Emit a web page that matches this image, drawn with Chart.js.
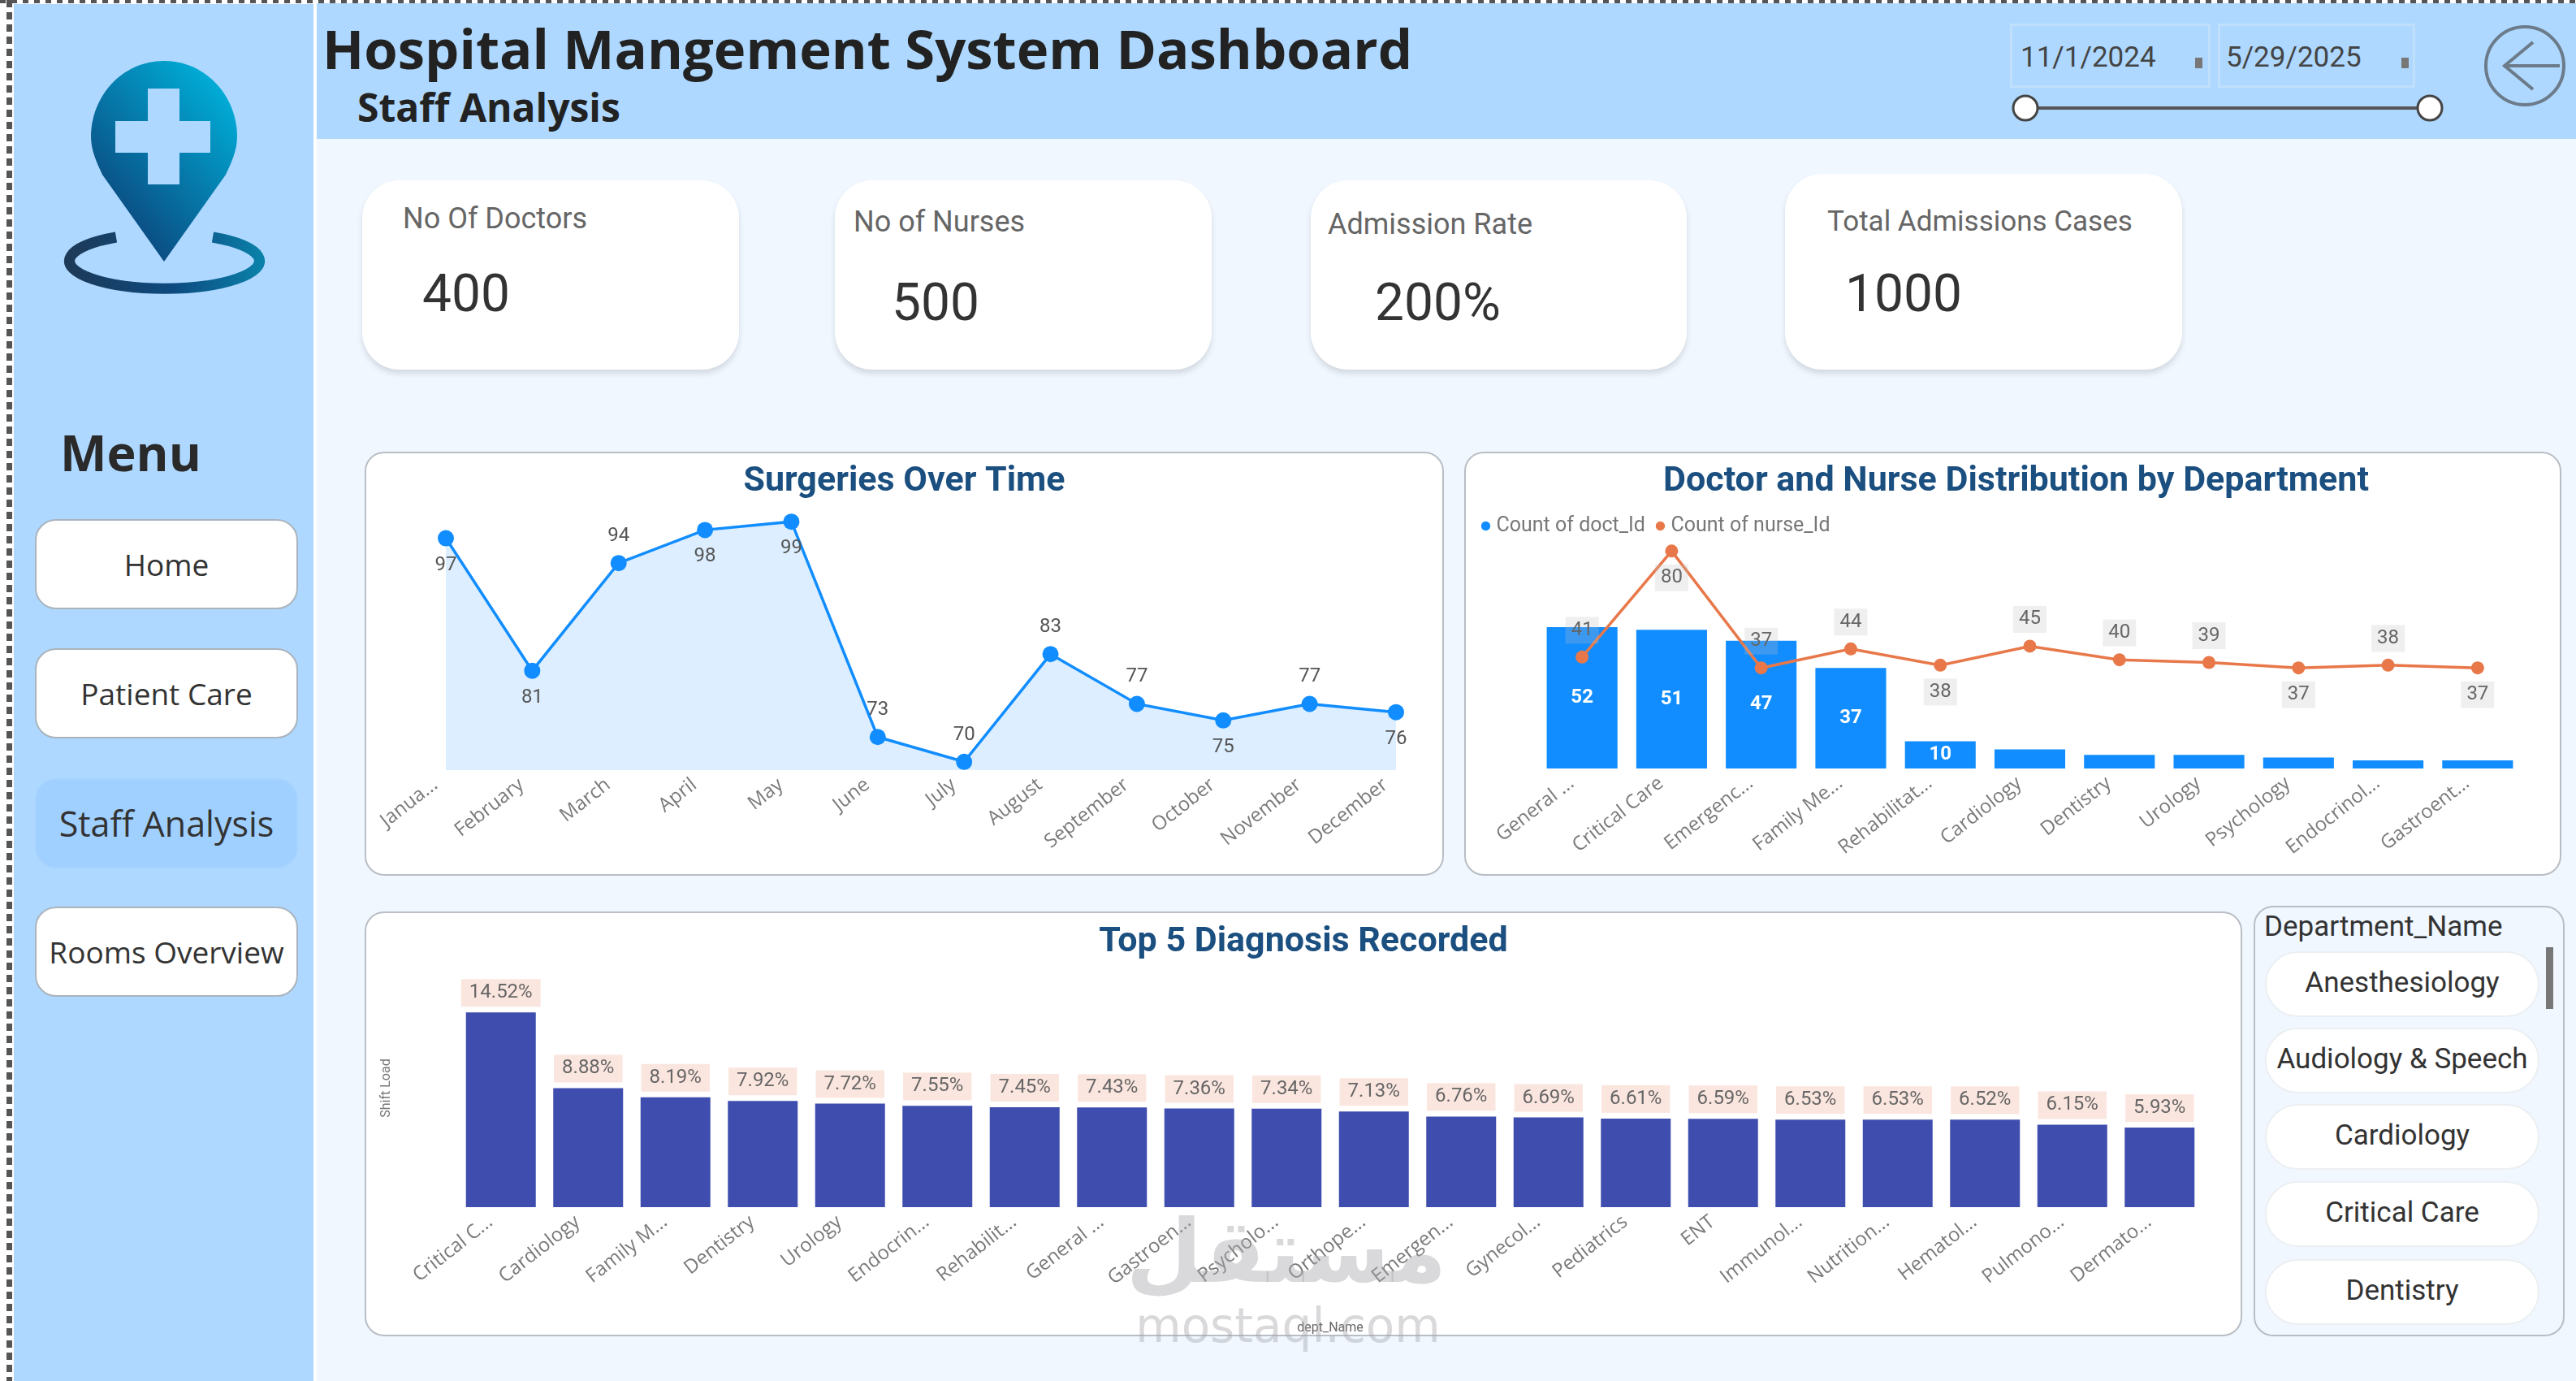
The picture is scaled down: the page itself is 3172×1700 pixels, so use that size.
<!DOCTYPE html>
<html>
<head>
<meta charset="utf-8">
<title>Hospital Mangement System Dashboard</title>
<script src="https://cdn.jsdelivr.net/npm/chart.js@4"></script>
<style>
    html, body { margin: 0; padding: 0; background: #fff; }
    #page { position: relative; width: 3172px; height: 1700px; overflow: hidden; background: #fff; font-family: "Open Sans", sans-serif; }
    #page > * { position: absolute; box-sizing: border-box; }
    .mid { transform: translateY(-50%); white-space: nowrap; }
    .dashTop { left: 0; top: 0; width: 3172px; height: 4px; background: repeating-linear-gradient(90deg, #555 0 7px, #fff 7px 14px); }
    .dashLeft { left: 8px; top: 0; width: 7px; height: 1700px; background: repeating-linear-gradient(180deg, #555 0 9px, #fff 9px 15px); }
    .sidebar { left: 17px; top: 5px; width: 369px; height: 1695px; background: #AED8FF; }
    .header { left: 390px; top: 4px; width: 2782px; height: 167px; background: #AED8FF; }
    .main { left: 390px; top: 171px; width: 2782px; height: 1529px; background: #F0F7FF; }
    .navBtn { left: 43px; width: 324px; height: 111px; border: 2px solid #aab4bd; border-radius: 26px; background: #fff; color: #333; font-size: 37px; display: flex; align-items: center; justify-content: center; }
    .navBtn.active { background: #A0D0FF; border-color: #A6D3FF; font-size: 43px; }
    .card { background: #fff; border-radius: 46px; box-shadow: 0 5px 7px rgba(0,0,0,.12); }
    .kpiLabel { font-family: Roboto, sans-serif; font-size: 36px; color: #666; }
    .kpiValue { font-family: Roboto, sans-serif; font-size: 64px; color: #333; }
    .panel { background: #fff; border: 2px solid #b9bec4; border-radius: 24px; }
    .dateBox { top: 29px; height: 79px; border: 3px solid #BFDFFB; }
    .dateText { font-family: Roboto, sans-serif; font-size: 35px; color: #444; }
    .dateMark { width: 9px; height: 13px; background: #777; top: 71px; }
    .slicer { left: 2775px; top: 1115px; width: 383px; height: 530px; background: #F0F7FF; border: 2px solid #b9bec4; border-radius: 24px; }
    .slicerItem { left: 2789px; width: 338px; padding-bottom: 5px; background: #fff; border: 2px solid #eceff2; border-radius: 42px; font-family: Roboto, sans-serif; font-size: 35px; color: #333; display: flex; align-items: center; justify-content: center; white-space: nowrap; box-sizing: border-box; }
    canvas { display: block; }
    .wm { z-index: 5; color: rgba(165,165,170,.42); font-weight: bold; transform: translate(-50%, -50%); white-space: nowrap; }
</style>
</head>
<body>
<div id="page">
    <div class="dashTop"></div>
    <div class="dashLeft"></div>
    <div class="sidebar"></div>
    <div class="header"></div>
    <div class="main"></div>

    <svg style="left:0;top:0" width="390" height="400" viewBox="0 0 390 400">
        <defs>
            <linearGradient id="pinFill" x1="0.85" y1="0.1" x2="0.25" y2="0.85">
                <stop offset="0" stop-color="#00ACD6"/>
                <stop offset="1" stop-color="#0B4A80"/>
            </linearGradient>
            <linearGradient id="ringFill" x1="0" y1="0" x2="1" y2="0">
                <stop offset="0" stop-color="#1D3A58"/>
                <stop offset="0.55" stop-color="#0D4A80"/>
                <stop offset="1" stop-color="#0A80A8"/>
            </linearGradient>
        </defs>
        <path d="M202 75 C149 75 112 120 112 168 C112 185 119 200 126 215 L202 322 L278 215 C285 200 292 185 292 168 C292 120 255 75 202 75 Z" fill="url(#pinFill)"/>
        <path d="M182 109 H221 V149 H259 V188 H221 V227 H182 V188 H142 V149 H182 Z" fill="#AED8FF"/>
        <path d="M143 292 A117 34 0 1 0 262 292" fill="none" stroke="url(#ringFill)" stroke-width="13"/>
    </svg>

    <div class="mid" style="left:397px;top:59px;font-size:67px;font-weight:700;color:#222">Hospital Mangement System Dashboard</div>
    <div class="mid" style="left:440px;top:131px;font-size:48px;font-weight:700;color:#222">Staff Analysis</div>

    <div class="dateBox" style="left:2475px;width:247px"></div>
    <div class="dateBox" style="left:2731px;width:243px"></div>
    <div class="mid dateText" style="left:2488px;top:70px">11/1/2024</div>
    <div class="mid dateText" style="left:2741px;top:70px">5/29/2025</div>
    <div class="dateMark" style="left:2703px"></div>
    <div class="dateMark" style="left:2957px"></div>

    <svg style="left:2470px;top:20px" width="702" height="140" viewBox="2470 20 702 140">
        <line x1="2494" y1="133" x2="2992" y2="133" stroke="#555" stroke-width="4"/>
        <circle cx="2494" cy="133" r="15" fill="#fff" stroke="#444" stroke-width="3"/>
        <circle cx="2992" cy="133" r="15" fill="#fff" stroke="#444" stroke-width="3"/>
        <circle cx="3109" cy="81" r="48" fill="none" stroke="#6B7B8A" stroke-width="4"/>
        <path d="M3152 81 H3084 M3119 52 L3084 81 L3119 110" fill="none" stroke="#6B7B8A" stroke-width="4"/>
    </svg>

    <div class="mid" style="left:74px;top:556px;font-size:61px;font-weight:700;color:#2A2A2A">Menu</div>
    <div class="navBtn" style="top:639px">Home</div>
    <div class="navBtn" style="top:798px">Patient Care</div>
    <div class="navBtn active" style="top:958px">Staff Analysis</div>
    <div class="navBtn" style="top:1116px">Rooms Overview</div>

    <div class="card" style="left:446px;top:222px;width:464px;height:233px"></div>
    <div class="card" style="left:1028px;top:222px;width:464px;height:233px"></div>
    <div class="card" style="left:1614px;top:222px;width:463px;height:233px"></div>
    <div class="card" style="left:2198px;top:214px;width:489px;height:241px"></div>
    <div class="mid kpiLabel" style="left:496px;top:269px">No Of Doctors</div>
    <div class="mid kpiValue" style="left:520px;top:361px">400</div>
    <div class="mid kpiLabel" style="left:1051px;top:273px">No of Nurses</div>
    <div class="mid kpiValue" style="left:1098px;top:372px">500</div>
    <div class="mid kpiLabel" style="left:1635px;top:276px">Admission Rate</div>
    <div class="mid kpiValue" style="left:1693px;top:372px">200%</div>
    <div class="mid kpiLabel" style="left:2250px;top:272px;font-size:35px">Total Admissions Cases</div>
    <div class="mid kpiValue" style="left:2272px;top:361px">1000</div>

    <div class="panel" style="left:449px;top:556px;width:1329px;height:522px"></div>
    <div style="left:449px;top:556px;width:1329px;height:522px"><canvas id="surgeriesChart"></canvas></div>
    <div class="panel" style="left:1803px;top:556px;width:1351px;height:522px"></div>
    <div style="left:1803px;top:556px;width:1351px;height:522px"><canvas id="staffChart"></canvas></div>
    <div class="panel" style="left:449px;top:1122px;width:2312px;height:523px"></div>
    <div style="left:449px;top:1123px;width:2312px;height:522px"><canvas id="diagnosisChart"></canvas></div>

    <div class="slicer"></div>
    <div class="mid" style="left:2788px;top:1140px;font-family:Roboto,sans-serif;font-size:35px;color:#333">Department_Name</div>
    <div id="slicerItems" style="left:0;top:0"></div>
    <div style="left:3135px;top:1166px;width:9px;height:76px;background:#777"></div>

    <div class="wm" style="left:1584px;top:1540px;font-family:'DejaVu Sans',sans-serif;font-size:108px">مستقل</div>
    <div class="wm" style="left:1586px;top:1632px;font-family:'DejaVu Sans',sans-serif;font-size:58px;font-weight:normal">mostaql.com</div>
</div>

<script>
// Surgeries per month
const months = ['Janua...', 'February', 'March', 'April', 'May', 'June', 'July', 'August', 'September', 'October', 'November', 'December'];
const surgeries = [97, 81, 94, 98, 99, 73, 70, 83, 77, 75, 77, 76];
const surgeryLabelSide = ['below', 'below', 'above', 'below', 'below', 'above', 'above', 'above', 'above', 'below', 'above', 'below'];

// Staff per department
const departments = ['General ...', 'Critical Care', 'Emergenc...', 'Family Me...', 'Rehabilitat...', 'Cardiology', 'Dentistry', 'Urology', 'Psychology', 'Endocrinol...', 'Gastroent...'];
const doctorCounts = [52, 51, 47, 37, 10, 7, 5, 5, 4, 3, 3];
const nurseCounts = [41, 80, 37, 44, 38, 45, 40, 39, 37, 38, 37];
const nurseLabelSide = ['above', 'below', 'above', 'above', 'below', 'above', 'above', 'above', 'below', 'above', 'below'];

// Diagnosis share per department
const diagnosisDepartments = ['Critical C...', 'Cardiology', 'Family M...', 'Dentistry', 'Urology', 'Endocrin...', 'Rehabilit...', 'General ...', 'Gastroen...', 'Psycholo...', 'Orthope...', 'Emergen...', 'Gynecol...', 'Pediatrics', 'ENT', 'Immunol...', 'Nutrition...', 'Hematol...', 'Pulmono...', 'Dermato...'];
const diagnosisShares = [14.52, 8.88, 8.19, 7.92, 7.72, 7.55, 7.45, 7.43, 7.36, 7.34, 7.13, 6.76, 6.69, 6.61, 6.59, 6.53, 6.53, 6.52, 6.15, 5.93];

// Department filter list
const slicerNames = ['Anesthesiology', 'Audiology & Speech', 'Cardiology', 'Critical Care', 'Dentistry'];
const slicerTops = [1171, 1265, 1359, 1454, 1550];

const slicerHolder = document.getElementById('slicerItems');
slicerNames.forEach((name, i) => {
    const item = document.createElement('div');
    item.className = 'slicerItem';
    item.style.position = 'absolute';
    item.style.top = slicerTops[i] + 'px';
    item.style.height = '81px';
    item.textContent = name;
    slicerHolder.appendChild(item);
});

Chart.defaults.font.family = 'Roboto, sans-serif';
Chart.defaults.animation = false;
Chart.defaults.responsive = false;
Chart.defaults.plugins.tooltip.enabled = false;

const titleBlue = '#1B4F80';
const nurseOrange = '#E8784A';
const tickFont = { family: '"Open Sans", sans-serif', size: 24 };

function sizeCanvas(id, w, h) {
    const canvas = document.getElementById(id);
    canvas.width = w;
    canvas.height = h;
    return canvas.getContext('2d');
}

function chartTitle(text, topGap, bottomGap) {
    return {
        display: true,
        text: text,
        color: titleBlue,
        font: { size: 43, weight: 'bold', lineHeight: 1.116 },
        padding: { top: topGap, bottom: bottomGap }
    };
}

// invisible axis that only reserves a gutter beside the plot
function gutterAxis(width, position) {
    return {
        display: true,
        position: position,
        grid: { display: false },
        border: { display: false },
        ticks: { display: false },
        afterFit: scale => { scale.width = width; }
    };
}

function categoryAxis(height) {
    return {
        grid: { display: false },
        border: { display: false },
        ticks: { color: '#7A7A7A', font: tickFont, minRotation: 38, maxRotation: 38, autoSkip: false, padding: -4, labelOffset: -13 },
        afterFit: scale => { scale.height = height; }
    };
}

function drawLabel(ctx, text, x, y, opts) {
    ctx.save();
    ctx.font = (opts.bold ? 'bold ' : '') + opts.size + 'px Roboto, sans-serif';
    ctx.textAlign = 'center';
    ctx.textBaseline = 'middle';
    if (opts.background) {
        const w = ctx.measureText(text).width + opts.padX * 2;
        ctx.fillStyle = opts.background;
        ctx.fillRect(x - w / 2, y - opts.boxHeight / 2, w, opts.boxHeight);
    }
    ctx.fillStyle = opts.color;
    ctx.fillText(text, x, y);
    ctx.restore();
}

// Surgeries Over Time
const surgeryLabels = {
    id: 'surgeryLabels',
    afterDatasetsDraw(chart) {
        chart.getDatasetMeta(0).data.forEach((pt, i) => {
            const dy = surgeryLabelSide[i] === 'above' ? -33 : 33;
            drawLabel(chart.ctx, String(surgeries[i]), pt.x, pt.y + dy, { size: 24, color: '#555' });
        });
    }
};

new Chart(sizeCanvas('surgeriesChart', 1329, 522), {
    type: 'line',
    data: {
        labels: months,
        datasets: [{
            data: surgeries,
            borderColor: '#118DFF',
            backgroundColor: 'rgba(17, 141, 255, 0.15)',
            borderWidth: 3.5,
            fill: 'start',
            tension: 0,
            clip: false,
            pointRadius: 10,
            pointBackgroundColor: '#118DFF',
            pointBorderWidth: 0
        }]
    },
    options: {
        plugins: {
            legend: { display: false },
            title: chartTitle('Surgeries Over Time', 13, 15)
        },
        scales: {
            x: categoryAxis(130),
            y: { ...gutterAxis(100, 'left'), min: 69, max: 100 },
            rightGutter: { ...gutterAxis(59, 'right'), axis: 'y' }
        }
    },
    plugins: [surgeryLabels]
});

// Doctor and Nurse Distribution by Department
const staffLabels = {
    id: 'staffLabels',
    afterDatasetsDraw(chart) {
        chart.getDatasetMeta(1).data.forEach((bar, i) => {
            if (doctorCounts[i] >= 10) {
                drawLabel(chart.ctx, String(doctorCounts[i]), bar.x, (bar.y + bar.base) / 2, { size: 24, bold: true, color: '#fff' });
            }
        });
        chart.getDatasetMeta(0).data.forEach((pt, i) => {
            const dy = nurseLabelSide[i] === 'above' ? -33 : 33;
            drawLabel(chart.ctx, String(nurseCounts[i]), pt.x, pt.y + dy, {
                size: 24, color: '#666', background: 'rgba(190, 190, 190, 0.25)', padX: 7, boxHeight: 33
            });
        });
    }
};

new Chart(sizeCanvas('staffChart', 1351, 522), {
    data: {
        labels: departments,
        datasets: [{
            type: 'line',
            label: 'Count of nurse_Id',
            data: nurseCounts,
            order: 0,
            borderColor: nurseOrange,
            backgroundColor: nurseOrange,
            borderWidth: 3.5,
            tension: 0,
            pointRadius: 8,
            pointBorderWidth: 0,
            pointBackgroundColor: nurseOrange
        }, {
            type: 'bar',
            label: 'Count of doct_Id',
            data: doctorCounts,
            order: 1,
            backgroundColor: '#118DFF',
            categoryPercentage: 1,
            barPercentage: 0.79
        }]
    },
    options: {
        layout: { padding: { left: 8 } },
        plugins: {
            title: chartTitle('Doctor and Nurse Distribution by Department', 13, 0),
            legend: {
                position: 'top',
                align: 'start',
                reverse: true,
                labels: { usePointStyle: true, pointStyle: 'circle', boxWidth: 1, boxHeight: 8, padding: 18, color: '#777', font: { size: 25 } }
            }
        },
        scales: {
            x: categoryAxis(132),
            y: { ...gutterAxis(82, 'left'), min: 0, max: 82.5 },
            rightGutter: { ...gutterAxis(48, 'right'), axis: 'y' }
        }
    },
    plugins: [staffLabels]
});

// Top 5 Diagnosis Recorded
const diagnosisLabels = {
    id: 'diagnosisLabels',
    afterDatasetsDraw(chart) {
        chart.getDatasetMeta(0).data.forEach((bar, i) => {
            drawLabel(chart.ctx, diagnosisShares[i].toFixed(2) + '%', bar.x, bar.y - 24, {
                size: 24, color: '#666', background: '#FBE6DF', padX: 10, boxHeight: 34
            });
        });
    }
};

const diagnosisX = categoryAxis(159);
diagnosisX.title = { display: true, text: 'dept_Name', color: '#666', font: { size: 16 }, padding: { top: 11, bottom: 0 } };
const diagnosisY = { ...gutterAxis(114, 'left'), min: 0, max: 17.75 };
diagnosisY.title = { display: true, text: 'Shift Load', color: '#777', font: { size: 16 }, padding: { top: 17, bottom: 0 } };

new Chart(sizeCanvas('diagnosisChart', 2312, 522), {
    type: 'bar',
    data: {
        labels: diagnosisDepartments,
        datasets: [{
            data: diagnosisShares,
            backgroundColor: '#3F4EAE',
            categoryPercentage: 1,
            barPercentage: 0.8
        }]
    },
    options: {
        plugins: {
            legend: { display: false },
            title: chartTitle('Top 5 Diagnosis Recorded', 13, 9)
        },
        scales: {
            x: diagnosisX,
            y: diagnosisY,
            rightGutter: { ...gutterAxis(48, 'right'), axis: 'y' }
        }
    },
    plugins: [diagnosisLabels]
});
</script>
</body>
</html>
